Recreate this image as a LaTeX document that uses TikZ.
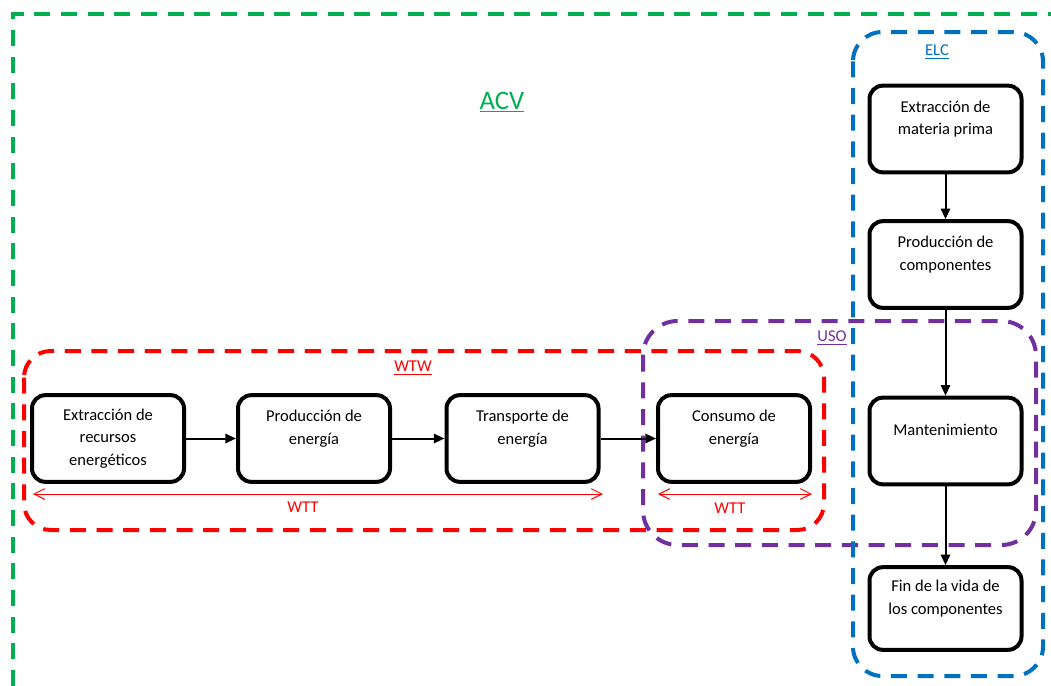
\documentclass[tikz,border=0pt]{standalone}
\usepackage{fontspec}
\setmainfont{Carlito}
\usetikzlibrary{arrows.meta}
\definecolor{acvgreen}{HTML}{00B050}
\definecolor{wtwred}{HTML}{FF0000}
\definecolor{elcblue}{HTML}{0070C0}
\definecolor{usopurple}{HTML}{7030A0}
\tikzset{
  frame/.style={line width=3pt, dash pattern=on 12pt off 8pt},
  stage/.style={draw=black, line width=3pt, rounded corners=10pt,
    minimum width=114pt, minimum height=65pt, align=center,
    font=\fontsize{12.4}{17}\selectfont, inner sep=2pt},
  tag/.style={font=\fontsize{12.4}{15}\selectfont, inner sep=0pt},
  flow/.style={draw=black, line width=1.5pt, -{Triangle[length=8pt,width=7pt]}},
  span/.style={draw=wtwred, line width=0.75pt, {Straight Barb[length=8pt,width=8pt]}-{Straight Barb[length=8pt,width=8pt]}}
}
\begin{document}
\begin{tikzpicture}[x=0.75pt,y=-0.75pt]
\path[use as bounding box] (0,0) rectangle (1051,686);
% ACV frame
\coordinate (g1) at (13,686);
\coordinate (g2) at (13,14);
\coordinate (g3) at (1051,14);
\draw[frame, draw=acvgreen] (g1) -- (g2) -- (g3);
\node[tag, text=acvgreen, font=\fontsize{20}{24}\selectfont] (acv) at (502,102) {\underline{ACV}};
% WTW frame
\draw[frame, draw=wtwred, rounded corners=20pt] (24,351) rectangle (824,530);
\node[tag, text=wtwred] (wtw) at (413,368) {\underline{WTW}};
% USO frame
\draw[frame, draw=usopurple, rounded corners=26pt] (643,321) rectangle (1036,545);
\node[tag, text=usopurple] (uso) at (832,338) {\underline{USO}};
% ELC frame
\draw[frame, draw=elcblue, rounded corners=22pt] (853,32) rectangle (1043,676);
\node[tag, text=elcblue] (elc) at (937,52) {\underline{ELC}};
% stages
\node[stage] (r1) at (108,438.5) {Extracción de\\recursos\\energéticos};
\node[stage] (r2) at (314,438.5) {Producción de\\energía\\\mbox{}};
\node[stage] (r3) at (522.5,438.5) {Transporte de\\energía\\\mbox{}};
\node[stage] (r4) at (734,438.5) {Consumo de\\energía\\\mbox{}};
\node[stage] (e1) at (945.5,129) {Extracción de\\materia prima\\\mbox{}};
\node[stage] (e2) at (945.5,264.5) {Producción de\\componentes\\\mbox{}};
\node[stage] (e3) at (945.5,441) {Mantenimiento\\\mbox{}};
\node[stage, minimum height=62pt] (e4) at (945.5,608.5) {Fin de la vida de\\los componentes\\\mbox{}};
% flows
\draw[flow] (r1) -- (r2);
\draw[flow] (r2) -- (r3);
\draw[flow] (r3) -- (r4);
\draw[flow] (e1) -- (e2);
\draw[flow] (e2) -- (e3);
\draw[flow] (e3) -- (e4);
% WTT spans
\coordinate (w1a) at (33,494);
\coordinate (w1b) at (603,494);
\coordinate (w2a) at (658,494);
\coordinate (w2b) at (812,494);
\draw[span] (w1a) -- (w1b);
\draw[span] (w2a) -- (w2b);
\node[tag, text=wtwred] (wtt1) at (303,507) {WTT};
\node[tag, text=wtwred] (wtt2) at (730,508) {WTT};
\end{tikzpicture}
\end{document}
